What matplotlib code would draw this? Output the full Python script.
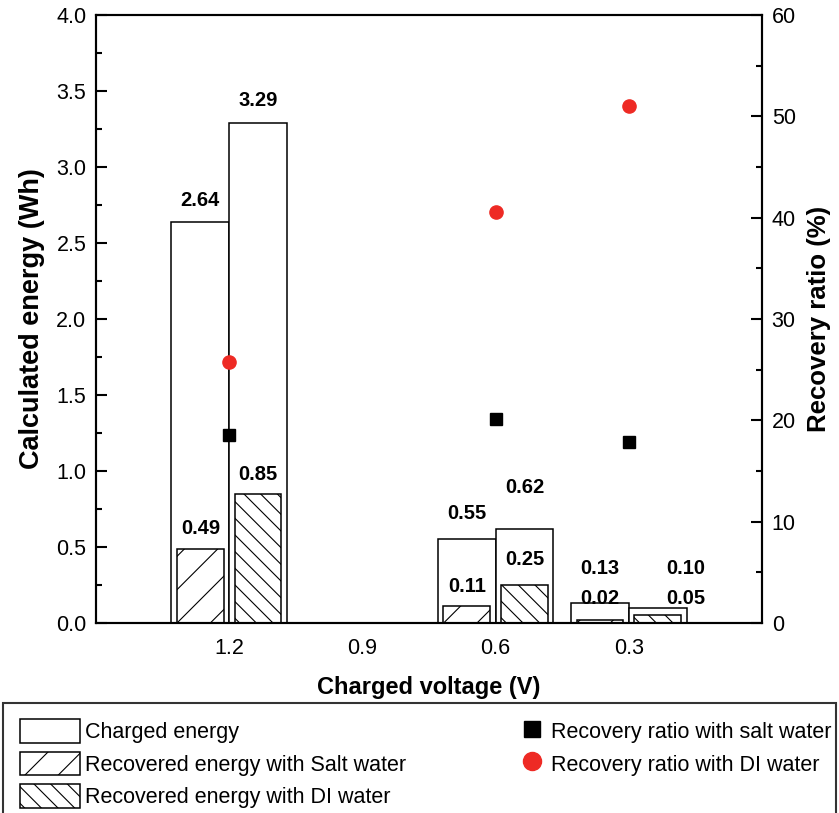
import matplotlib
matplotlib.use('agg')
import matplotlib.pyplot as plt
from matplotlib.patches import Patch
from matplotlib.lines import Line2D
from matplotlib.ticker import MultipleLocator

plt.rcParams['font.family'] = ['Liberation Sans', 'DejaVu Sans']
plt.rcParams['hatch.linewidth'] = 0.8

# data
voltage = [1.2, 0.6, 0.3]
charged_salt = [2.64, 0.55, 0.13]
charged_di = [3.29, 0.62, 0.10]
recovered_salt = [0.49, 0.11, 0.02]
recovered_di = [0.85, 0.25, 0.05]
ratio_salt = [18.6, 20.1, 17.9]
ratio_di = [25.8, 40.6, 51.0]
xticks = [1.2, 0.9, 0.6, 0.3]

# label placement (label centre above bar top, in Wh / points)
pad_charged_salt = [0.14, 0.17, 0.23]
pad_charged_di = [0.15, 0.27, 0.26]
pad_rec_salt = [0.135, 0.13, 0.14]
pad_rec_di = [0.13, 0.17, 0.11]
dx_di = [0, 0, 20]

off = 0.065
w_out = 0.13
w_in = 0.105
red = '#ee2a24'

fig = plt.figure(figsize=(8.39, 8.13), dpi=100)
ax = fig.add_axes([0.1144, 0.2337, 0.7938, 0.7478])

xs = [v + off for v in voltage]
xd = [v - off for v in voltage]
ax.bar(xs, charged_salt, width=w_out, color='white', edgecolor='black', linewidth=1.1)
ax.bar(xd, charged_di, width=w_out, color='white', edgecolor='black', linewidth=1.1)
ax.bar(xs, recovered_salt, width=w_in, color='white', edgecolor='black', linewidth=1.1, hatch='/')
ax.bar(xd, recovered_di, width=w_in, color='white', edgecolor='black', linewidth=1.1, hatch='\\\\')

lab = dict(ha='center', va='center', fontsize=14.5, fontweight='bold')
for i in range(len(voltage)):
    ax.text(xs[i], charged_salt[i] + pad_charged_salt[i], '%.2f' % charged_salt[i], **lab)
    ax.text(xs[i], recovered_salt[i] + pad_rec_salt[i], '%.2f' % recovered_salt[i], **lab)
    ax.annotate('%.2f' % charged_di[i], (xd[i], charged_di[i] + pad_charged_di[i]),
                xytext=(dx_di[i], 0), textcoords='offset points', **lab)
    ax.annotate('%.2f' % recovered_di[i], (xd[i], recovered_di[i] + pad_rec_di[i]),
                xytext=(dx_di[i], 0), textcoords='offset points', **lab)

ax.set_xlim(1.5, 0.0)
ax.set_ylim(0, 4.0)
ax.set_xticks(xticks)
ax.set_xticklabels(['%.1f' % v for v in xticks])
ax.yaxis.set_major_locator(MultipleLocator(0.5))
ax.yaxis.set_minor_locator(MultipleLocator(0.25))
ax.tick_params(axis='x', length=0, pad=11, labelsize=15.5)
ax.tick_params(axis='y', which='major', direction='in', length=8, width=1.5, labelsize=15.5, pad=7)
ax.tick_params(axis='y', which='minor', direction='in', length=4.5, width=1.5)
ax.set_xlabel('Charged voltage (V)', fontsize=17, fontweight='bold', labelpad=12)
ax.set_ylabel('Calculated energy (Wh)', fontsize=19.5, fontweight='bold', labelpad=8)
for s in ax.spines.values():
    s.set_linewidth(1.5)

ax2 = ax.twinx()
ax2.plot(voltage, ratio_salt, 's', color='black', markersize=9, linestyle='none')
ax2.plot(voltage, ratio_di, 'o', color=red, markersize=9.5, linestyle='none')
ax2.set_ylim(0, 60)
ax2.yaxis.set_major_locator(MultipleLocator(10))
ax2.yaxis.set_minor_locator(MultipleLocator(5))
ax2.tick_params(axis='y', which='major', direction='in', length=8, width=1.5, labelsize=15.5, pad=7)
ax2.tick_params(axis='y', which='minor', direction='in', length=4.5, width=1.5)
ax2.set_ylabel('Recovery ratio (%)', fontsize=18.5, fontweight='bold', labelpad=8)
for s in ax2.spines.values():
    s.set_linewidth(1.5)

# legend below the plot: bar entries (framed, full width) and marker entries
bar_handles = [
    Patch(facecolor='white', edgecolor='black', linewidth=1.1),
    Patch(facecolor='white', edgecolor='black', linewidth=1.1, hatch='/'),
    Patch(facecolor='white', edgecolor='black', linewidth=1.1, hatch='\\\\'),
]
bar_labels = ['Charged energy', 'Recovered energy with Salt water', 'Recovered energy with DI water']
mark_handles = [
    Line2D([], [], marker='s', color='black', markersize=11, linestyle='none'),
    Line2D([], [], marker='o', color=red, markersize=13, linestyle='none'),
]
mark_labels = ['Recovery ratio with salt water', 'Recovery ratio with DI water']

leg_kw = dict(fontsize=15.5, handleheight=1.3, labelspacing=0.4, borderaxespad=0,
              borderpad=0.75, handletextpad=0.25)
leg = fig.legend(bar_handles, bar_labels, loc='upper left', bbox_to_anchor=(0.004, 0.0, 0.992, 0.1353),
                 mode='expand', frameon=True, fancybox=False, edgecolor='black',
                 handlelength=2.8, **leg_kw)
leg.get_frame().set_linewidth(1.5)
fig.legend(mark_handles, mark_labels, loc='upper left', bbox_to_anchor=(0.6, 0.1353),
           frameon=False, handlelength=1.2, **leg_kw)

fig.savefig('out.png', dpi=100)
